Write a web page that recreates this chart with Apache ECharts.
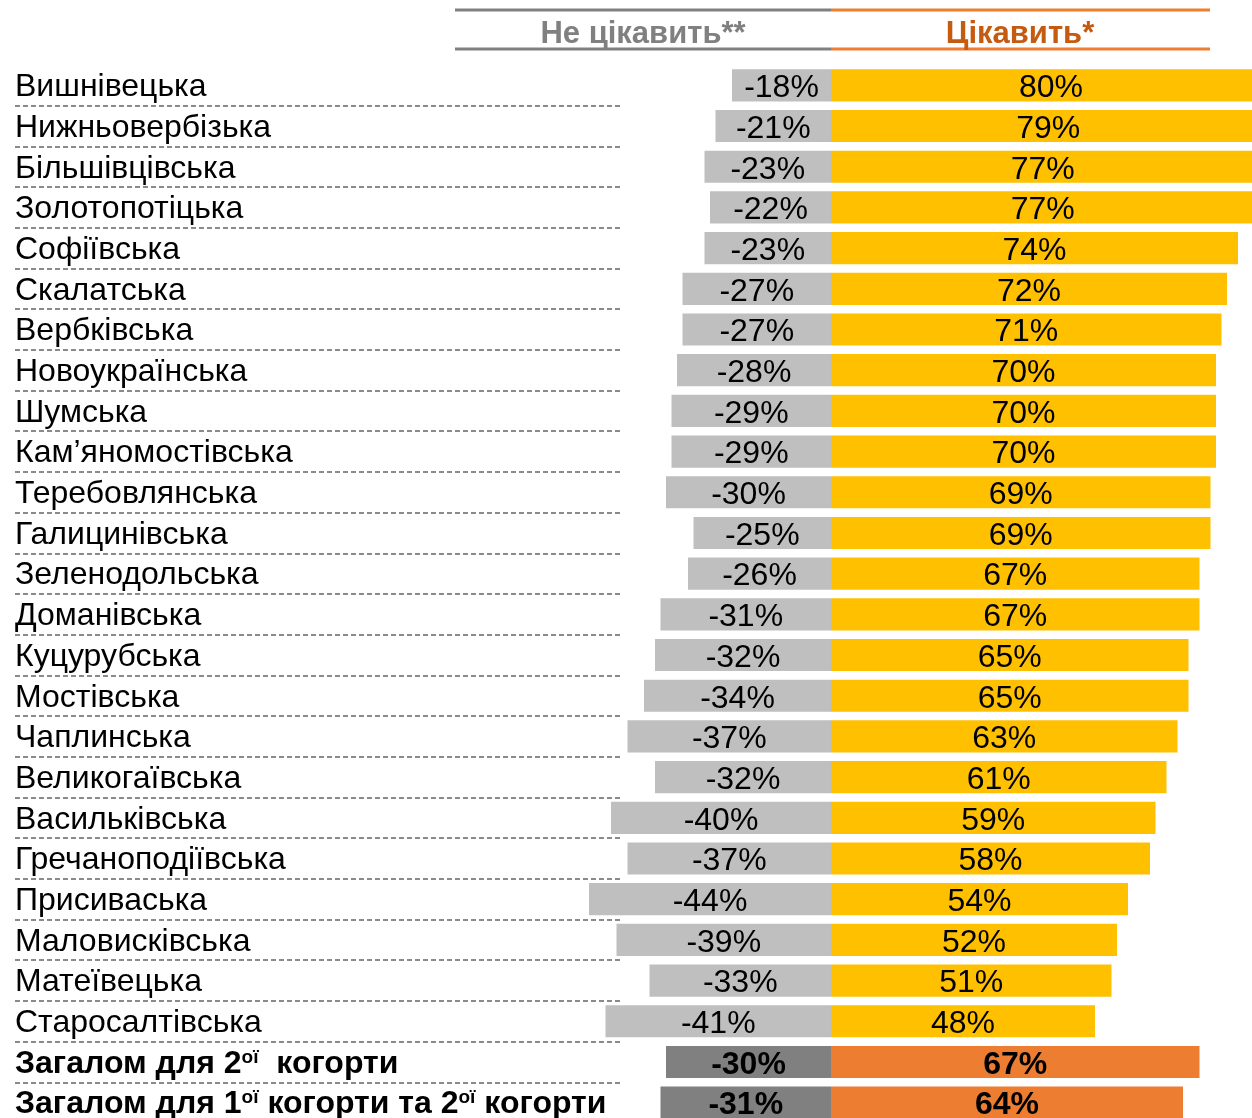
<!DOCTYPE html>
<html>
<head>
<meta charset="utf-8">
<script src="https://cdn.jsdelivr.net/npm/echarts@6/dist/echarts.min.js"></script>
<style>
html,body{margin:0;padding:0;background:#fff;}
#chart{width:1252px;height:1118px;}
</style>
</head>
<body>
<div id="chart"></div>
<script>
const categories = [
  "Вишнівецька","Нижньовербізька","Більшівцівська","Золотопотіцька","Софіївська",
  "Скалатська","Вербківська","Новоукраїнська","Шумська","Кам’яномостівська",
  "Теребовлянська","Галицинівська","Зеленодольська","Доманівська","Куцурубська",
  "Мостівська","Чаплинська","Великогаївська","Васильківська","Гречаноподіївська",
  "Присиваська","Маловисківська","Матеївецька","Старосалтівська",
  "Загалом для 2ої  когорти","Загалом для 1ої когорти та 2ої когорти"
];
const notInterested = [-18,-21,-23,-22,-23,-27,-27,-28,-29,-29,-30,-25,-26,-31,-32,-34,-37,-32,-40,-37,-44,-39,-33,-41,-30,-31];
const interested = [80,79,77,77,74,72,71,70,70,70,69,69,67,67,65,65,63,61,59,58,54,52,51,48,67,64];
const totalRows = [24,25];
const headerNeg = "Не цікавить**";
const headerPos = "Цікавить*";

const FONT = "'Liberation Sans', Arial, sans-serif";

function catLabel(v){
  if (v.indexOf('Загалом') === 0) {
    return '{b|' + v.replace(/(\d)ої/g, '$1}{sup|ої}{b|') + '}';
  }
  return '{n|' + v + '}';
}

const negData = notInterested.map((v,i)=> totalRows.includes(i)
  ? {value:v, itemStyle:{color:'#808080'}, label:{fontWeight:'bold'}}
  : {value:v});
const posData = interested.map((v,i)=> totalRows.includes(i)
  ? {value:v, itemStyle:{color:'#ED7D31'}, label:{fontWeight:'bold'}}
  : {value:v});

const gridTop = 65, gridHeight = 1058;

const chart = echarts.init(document.getElementById('chart'), null, {renderer:'canvas'});
chart.setOption({
  animation:false,
  grid:[
    {left:391, width:880, top:gridTop, height:gridHeight, containLabel:false, outerBoundsMode:'none'},
    {left:15, width:605, top:gridTop, height:gridHeight, containLabel:false, outerBoundsMode:'none'}
  ],
  xAxis:[
    {type:'value', gridIndex:0, min:-80, max:80, show:false},
    {type:'value', gridIndex:1, min:0, max:1, show:false}
  ],
  yAxis:[
    {type:'category', gridIndex:0, data:categories, inverse:true,
     axisLine:{show:false}, axisTick:{show:false}, splitLine:{show:false},
     axisLabel:{
       interval:0, hideOverlap:false,
       align:'left', margin:376, fontFamily:FONT, fontSize:32, color:'#000',
       padding:[4,0,0,0],
       formatter:catLabel,
       rich:{
         n:{fontFamily:FONT, fontSize:32, color:'#000'},
         b:{fontFamily:FONT, fontSize:32, fontWeight:'bold', color:'#000'},
         sup:{fontFamily:FONT, fontSize:19, fontWeight:'bold', color:'#000', verticalAlign:'top', padding:[0,0,12,0]}
       }
     }},
    {type:'category', gridIndex:1, data:categories, inverse:true,
     axisLine:{show:false}, axisTick:{show:false}, axisLabel:{show:false},
     splitLine:{show:true, interval:function(i){ return i > 0; }, lineStyle:{color:'#8a8a8a', width:2, type:[5,3]}}}
  ],
  series:[
    {type:'bar', name:headerNeg, xAxisIndex:0, yAxisIndex:0, stack:'s', data:negData,
     barWidth:'79%', itemStyle:{color:'#BFBFBF'},
     label:{show:true, position:'inside', offset:[0,3], fontFamily:FONT, fontSize:32, color:'#000',
            formatter:p=>p.value+'%'}},
    {type:'bar', name:headerPos, xAxisIndex:0, yAxisIndex:0, stack:'s', data:posData,
     barWidth:'79%', itemStyle:{color:'#FFC000'},
     label:{show:true, position:'inside', offset:[0,3], fontFamily:FONT, fontSize:32, color:'#000',
            formatter:p=>p.value+'%'}}
  ],
  graphic:[
    {type:'line', shape:{x1:455,y1:10,x2:831,y2:10}, style:{stroke:'#808080', lineWidth:3}},
    {type:'line', shape:{x1:455,y1:49,x2:831,y2:49}, style:{stroke:'#808080', lineWidth:3}},
    {type:'line', shape:{x1:831,y1:10,x2:1210,y2:10}, style:{stroke:'#ED7D31', lineWidth:3}},
    {type:'line', shape:{x1:831,y1:49,x2:1210,y2:49}, style:{stroke:'#ED7D31', lineWidth:3}},
    {type:'text', x:643, y:34, style:{text:headerNeg, fill:'#808080', font:"bold 31px "+FONT, align:'center', verticalAlign:'middle'}},
    {type:'text', x:1020, y:34, style:{text:headerPos, fill:'#C55A11', font:"bold 31px "+FONT, align:'center', verticalAlign:'middle'}}
  ]
});
</script>
</body>
</html>
